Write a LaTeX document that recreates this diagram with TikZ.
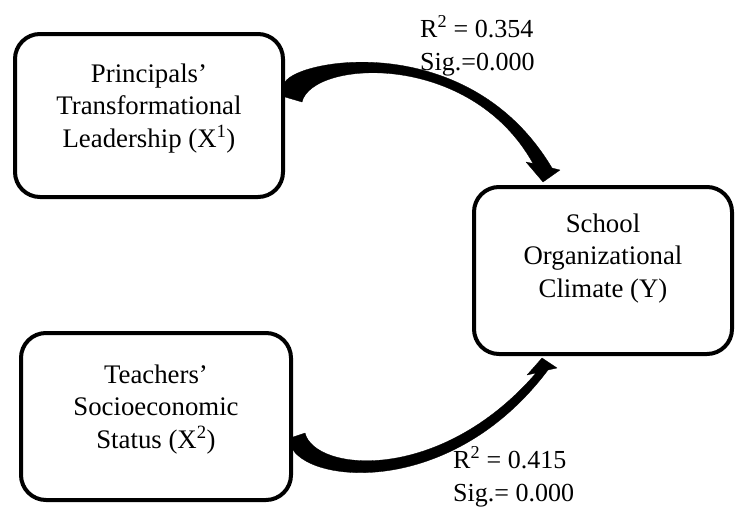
\documentclass[tikz,border=0pt]{standalone}
\usepackage{fontspec}
\setmainfont{Liberation Serif}
\begin{document}
\begin{tikzpicture}[x=1pt,y=-1pt,
  box/.style={draw, line width=4pt, rounded corners=25pt, inner sep=0pt},
  txt/.style={font=\fontsize{26.8}{32.5}\selectfont, align=center, inner sep=0pt},
  lbl/.style={font=\fontsize{26}{33}\selectfont, align=left, inner sep=0pt},
  band/.style={fill=black, draw=black, line width=0.3pt, line join=round}]
\useasboundingbox (0,0) rectangle (735,506);
% boxes
\node[box, minimum width=268pt, minimum height=163pt] (P) at (149,115.5) {};
\node[box, minimum width=258pt, minimum height=167pt] (S) at (603,270.5) {};
\node[box, minimum width=270pt, minimum height=167pt] (T) at (156,416.5) {};
% texts
\node[txt, anchor=base] (Pt) at (149,147) {Principals’\\Transformational\\Leadership (X\textsuperscript{1})};
\node[txt, anchor=base] (St) at (603,297) {School\\Organizational\\Climate (Y)};
\node[txt, anchor=base] (Tt) at (156,448) {Teachers’\\Socioeconomic\\Status (X\textsuperscript{2})};
% curved arrow P -> S
\fill[band] (285,82) .. controls (300,58) and (470,30) .. (552,168)
  -- (560,170) -- (543,182) -- (526,162) -- (533,163.5)
  .. controls (470,50) and (312,60) .. (302,102) -- (285,97) -- cycle;
% curved arrow T -> S
\fill[band] (305,433) -- (290,438) -- (291,446)
  .. controls (305,483) and (450,500) .. (548,370)
  -- (557,368) -- (542,358) -- (527,375) -- (536,373)
  .. controls (440,484) and (315,472) .. (305,433) -- cycle;
% labels
\node[lbl, anchor=base west] (L1) at (420,70) {R\textsuperscript{2} = 0.354\\Sig.=0.000};
\node[lbl, anchor=base west] (L2) at (453,501) {R\textsuperscript{2} = 0.415\\Sig.= 0.000};
\end{tikzpicture}
\end{document}
